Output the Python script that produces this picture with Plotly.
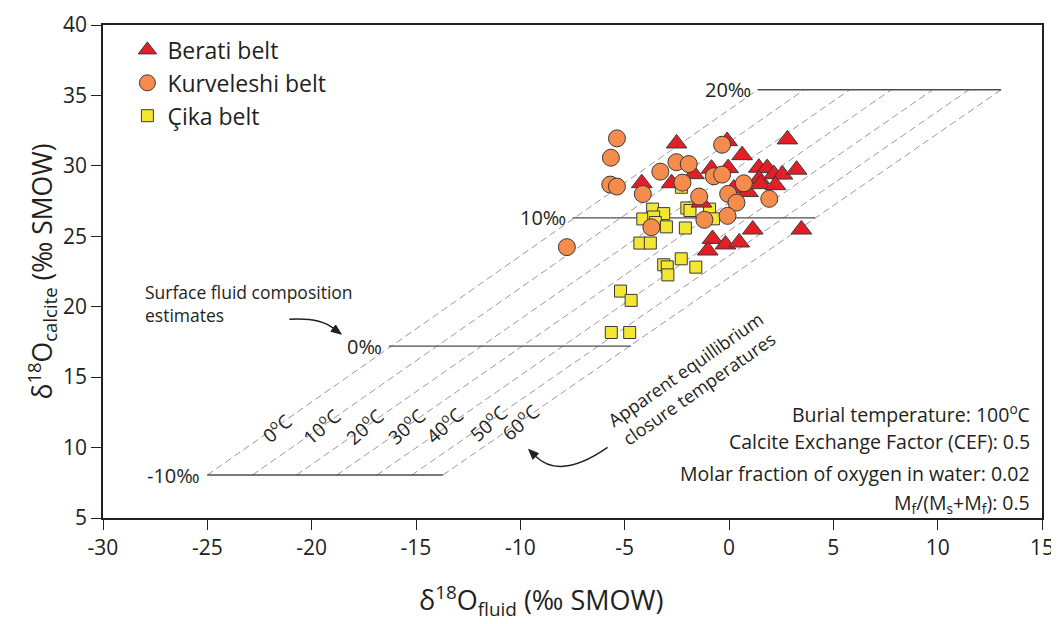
import plotly.graph_objects as go

# ---------------- data ----------------
berati_x = [-2.51, -0.09, 2.80, 0.63, -1.68, -0.84, -0.04, 1.43, 1.83, 2.15, 2.56, 3.24, 1.44,
            1.51, 2.23, -4.18, -2.75, 0.23, 0.91, -1.32, 1.14, 3.47, -0.79, -0.17, 0.49, -1.02]
berati_y = [31.59, 31.76, 31.88, 30.76, 29.41, 29.80, 29.84, 29.87, 29.84, 29.41, 29.38, 29.73, 29.06,
            28.70, 28.63, 28.77, 28.77, 28.39, 28.14, 27.39, 25.48, 25.48, 24.81, 24.42, 24.56, 23.99]

kurveleshi_x = [-5.37, -5.66, -5.69, -5.37, -4.13, -3.29, -2.52, -1.93, -2.23, -0.33, -0.73,
                -0.33, 0.71, -1.43, -0.04, 0.36, 1.93, -1.18, -0.07, -3.72, -7.77]
kurveleshi_y = [31.95, 30.58, 28.67, 28.53, 28.00, 29.59, 30.26, 30.13, 28.81, 31.50, 29.26,
                29.38, 28.76, 27.82, 28.01, 27.39, 27.66, 26.17, 26.45, 25.64, 24.23]

cika_x = [-3.66, -3.13, -4.13, -3.61, -3.53, -3.00, -2.09, -2.02, -1.87, -0.93, -0.74, -2.28,
          -4.27, -3.77, -2.29, -3.13, -2.96, -2.93, -1.59, -5.20, -4.69, -5.64, -4.76]
cika_y = [26.93, 26.61, 26.23, 26.37, 25.98, 25.67, 25.59, 27.01, 26.83, 26.93, 26.24, 28.48,
          24.52, 24.52, 23.40, 22.98, 22.83, 22.26, 22.81, 21.11, 20.45, 18.17, 18.17]

# surface fluid composition lines (per mil)
fluid_labels = ["-10‰", "0‰", "10‰", "20‰"]
fluid_y = [8.05, 17.2, 26.31, 35.4]
fluid_x_left = [-25.0, -16.3, -7.5, 1.37]
fluid_x_right = [-13.71, -4.7, 4.13, 13.04]

# apparent equilibrium closure temperature lines
iso_temps = [0, 10, 20, 30, 40, 50, 60]
iso_x_bottom = [-25.0, -22.84, -20.73, -18.8, -16.88, -15.2, -13.71]
iso_x_top = [1.37, 3.6, 5.78, 7.78, 9.76, 11.5, 13.04]
iso_label_x = [-21.69, -19.54, -17.48, -15.48, -13.66, -11.56, -10.03]
iso_label_y = [11.42, 11.56, 11.56, 11.56, 11.63, 11.77, 11.84]

# axis ticks
x_ticks = [-30, -25, -20, -15, -10, -5, 0, 5, 10, 15]
y_ticks = [5, 10, 15, 20, 25, 30, 35, 40]

FONT = "Open Sans"
INK = "#231f20"

fig = go.Figure()

# isotherms (dashed)
for i, t in enumerate(iso_temps):
    fig.add_trace(go.Scatter(
        x=[iso_x_bottom[i], iso_x_top[i]], y=[fluid_y[0], fluid_y[-1]],
        mode="lines", line=dict(color="#9a9a9a", width=1, dash="7px,4px"),
        showlegend=False, hoverinfo="skip"))

# fluid composition lines (solid)
for i in range(len(fluid_labels)):
    fig.add_trace(go.Scatter(
        x=[fluid_x_left[i], fluid_x_right[i]], y=[fluid_y[i], fluid_y[i]],
        mode="lines", line=dict(color="#4d4d4d", width=1.4),
        showlegend=False, hoverinfo="skip"))

# data
fig.add_trace(go.Scatter(
    x=cika_x, y=cika_y, mode="markers", name="Çika belt", legendrank=3,
    marker=dict(symbol="square", size=12, color="#f4e733", line=dict(color="#3a3a3a", width=1))))
fig.add_trace(go.Scatter(
    x=berati_x, y=berati_y, mode="markers", name="Berati belt", legendrank=1,
    marker=dict(symbol="triangle-up", size=18, color="#e41e26", line=dict(color="#3a3a3a", width=1))))
fig.add_trace(go.Scatter(
    x=kurveleshi_x, y=kurveleshi_y, mode="markers", name="Kurveleshi belt", legendrank=2,
    marker=dict(symbol="circle", size=17, color="#f58c4d", line=dict(color="#3a3a3a", width=1))))

annotations = []
for i, lab in enumerate(fluid_labels):
    annotations.append(dict(x=fluid_x_left[i], y=fluid_y[i], xref="x", yref="y", text=lab,
                            showarrow=False, xanchor="right", yanchor="middle", xshift=-5,
                            font=dict(family=FONT, size=20, color=INK)))
for i, t in enumerate(iso_temps):
    annotations.append(dict(x=iso_label_x[i], y=iso_label_y[i], xref="x", yref="y",
                            text=f"{t}<sup>o</sup>C", showarrow=False, textangle=-42,
                            font=dict(family=FONT, size=19, color=INK)))

notes = ["Burial temperature: 100<sup>o</sup>C",
         "Calcite Exchange Factor (CEF): 0.5",
         "Molar fraction of oxygen in water: 0.02",
         "M<sub>f</sub>/(M<sub>s</sub>+M<sub>f</sub>): 0.5"]
notes_y = [0.212, 0.155, 0.091, 0.030]
for t, yy in zip(notes, notes_y):
    annotations.append(dict(x=0.989, y=yy, xref="paper", yref="paper", align="right",
                            xanchor="right", yanchor="middle", showarrow=False, text=t,
                            font=dict(family=FONT, size=19.5, color=INK)))

annotations += [
    dict(x=-28.09, y=20.2, xref="x", yref="y", text="Surface fluid composition<br>estimates",
         showarrow=False, xanchor="left", yanchor="middle", align="left",
         font=dict(family=FONT, size=17.5, color=INK)),
    dict(x=-1.75, y=14.9, xref="x", yref="y",
         text="Apparent equillibrium<br>closure temperatures", showarrow=False, textangle=-35,
         font=dict(family=FONT, size=18, color=INK)),
    dict(x=0.466, y=-0.168, xref="paper", yref="paper", yanchor="middle", showarrow=False,
         text="δ<sup>18</sup>O<sub>fluid</sub> (‰ SMOW)", font=dict(family=FONT, size=27, color=INK)),
    dict(x=-0.066, y=0.5, xref="paper", yref="paper", xanchor="center", yanchor="middle",
         showarrow=False, textangle=-90,
         text="δ<sup>18</sup>O<sub>calcite</sub> (‰ SMOW)", font=dict(family=FONT, size=26.5, color=INK)),
]

shapes = [
    dict(type="path", xref="x", yref="y", path="M -21.07,19.11 Q -19.63,19.25 -18.96,18.48",
         line=dict(color=INK, width=1.4)),
    dict(type="path", xref="x", yref="y", path="M -18.58,18.05 L -19.08,18.25 L -18.85,18.70 Z",
         line=dict(color=INK, width=1), fillcolor=INK),
    dict(type="path", xref="x", yref="y", path="M -5.82,10.01 Q -8.07,7.68 -9.26,9.37",
         line=dict(color=INK, width=1.4)),
    dict(type="path", xref="x", yref="y", path="M -9.60,9.87 L -9.13,9.58 L -9.40,9.17 Z",
         line=dict(color=INK, width=1), fillcolor=INK),
]

axis_common = dict(showgrid=False, zeroline=False, showline=True, linecolor=INK, linewidth=1.5,
                   mirror=True, ticks="outside", ticklen=10, tickwidth=1.3, tickcolor=INK,
                   tickfont=dict(family=FONT, size=21, color=INK), automargin=False,
                   ticklabeloverflow="allow")

fig.update_layout(
    width=1059, height=624,
    margin=dict(l=95, r=25, t=17, b=114),
    paper_bgcolor="white", plot_bgcolor="white",
    xaxis=dict(range=[-30, 15], tickvals=x_ticks, ticktext=[str(v) for v in x_ticks], **axis_common),
    yaxis=dict(range=[5, 40], tickvals=y_ticks, ticktext=[str(v) for v in y_ticks], **axis_common),
    legend=dict(x=0.026, y=0.993, xanchor="left", yanchor="top", bgcolor="rgba(0,0,0,0)",
                font=dict(family=FONT, size=23, color=INK), tracegroupgap=0,
                itemsizing="trace"),
    annotations=annotations,
    shapes=shapes,
    font=dict(family=FONT, color=INK),
)

fig.write_html("out.html")
